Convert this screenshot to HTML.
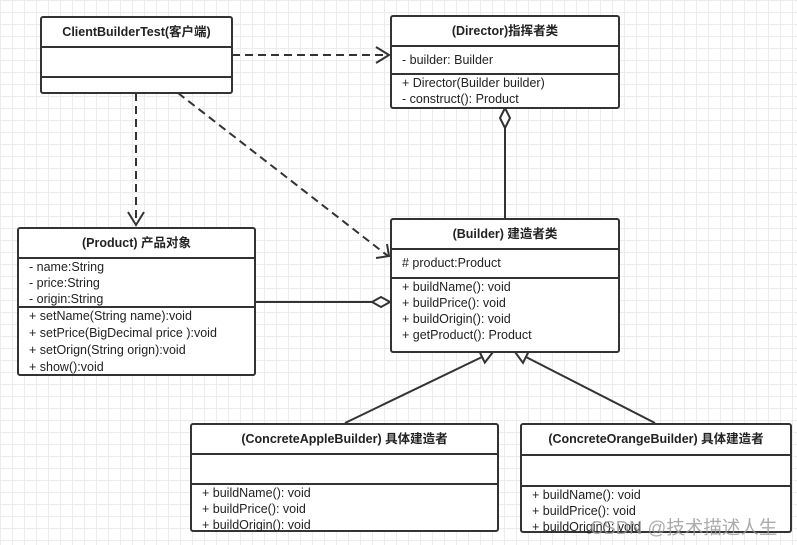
<!DOCTYPE html>
<html><head><meta charset="utf-8"><style>
body{margin:0;width:797px;height:545px;overflow:hidden;background:#fff;
background-image:linear-gradient(#ececec 1px,transparent 1px),linear-gradient(90deg,#ececec 1px,transparent 1px);background-size:12px 12px;
font-family:"Liberation Sans","Noto Sans CJK SC",sans-serif;font-size:12.5px;color:#222;position:relative}
.b{position:absolute;border:2px solid #333;border-radius:3px;background:#fff;box-sizing:border-box}
.h{font-weight:bold;text-align:center;border-bottom:2px solid #333;box-sizing:border-box}
.s{border-bottom:2px solid #333;box-sizing:border-box;padding-left:10px;line-height:16px}
.m{padding-left:10px;line-height:16px}
svg{position:absolute;left:0;top:0}
</style></head><body>
<svg width="797" height="545">
<g stroke="#333" stroke-width="2" fill="none">
<path d="M232 55 H388" stroke-dasharray="8,5"/><path d="M376 47 L389 55 L376 63"/>
<path d="M136 93 V224" stroke-dasharray="8,5"/><path d="M128 212 L136 225 L144 212"/>
<path d="M178 93 L388 256" stroke-dasharray="8,5"/><path d="M376 258 L389 256 L387 244"/>
<path d="M255 302 H372"/><path d="M372 302 L381 297 L390 302 L381 307 Z" fill="#fff"/>
<path d="M505 128 V227"/><path d="M505 108 L510 118 L505 128 L500 118 Z" fill="#fff"/>
<path d="M345 423 L482 357"/><path d="M493 352 L484.8 362.6 L479.6 351.8 Z" fill="#fff"/>
<path d="M655 423 L526 357"/><path d="M515 352 L528.4 352 L523 362.8 Z" fill="#fff"/>
</g></svg>
<div class="b" style="left:40px;top:16px;width:193px;height:78px"><div class="h" style="height:30px;line-height:28px">ClientBuilderTest(客户端)</div><div class="s" style="height:30px"></div></div>
<div class="b" style="left:390px;top:15px;width:230px;height:94px"><div class="h" style="height:30px;line-height:28px">(Director)指挥者类</div><div class="s" style="height:28px;line-height:26px">- builder: Builder</div><div class="m">+ Director(Builder builder)<br>- construct(): Product</div></div>
<div class="b" style="left:17px;top:227px;width:239px;height:149px"><div class="h" style="height:30px;line-height:28px">(Product) 产品对象</div><div class="s" style="height:49px">- name:String<br>- price:String<br>- origin:String</div><div class="m" style="line-height:17px">+ setName(String name):void<br>+ setPrice(BigDecimal price ):void<br>+ setOrign(String orign):void<br>+ show():void</div></div>
<div class="b" style="left:390px;top:218px;width:230px;height:135px"><div class="h" style="height:30px;line-height:28px">(Builder) 建造者类</div><div class="s" style="height:29px;line-height:27px"># product:Product</div><div class="m">+ buildName(): void<br>+ buildPrice(): void<br>+ buildOrigin(): void<br>+ getProduct(): Product</div></div>
<div class="b" style="left:190px;top:423px;width:309px;height:109px"><div class="h" style="height:30px;line-height:28px">(ConcreteAppleBuilder) 具体建造者</div><div class="s" style="height:30px"></div><div class="m">+ buildName(): void<br>+ buildPrice(): void<br>+ buildOrigin(): void</div></div>
<div class="b" style="left:520px;top:423px;width:272px;height:110px"><div class="h" style="height:31px;line-height:29px">(ConcreteOrangeBuilder) 具体建造者</div><div class="s" style="height:31px"></div><div class="m">+ buildName(): void<br>+ buildPrice(): void<br>+ buildOrigin(): void</div></div>
<div style="position:absolute;left:590px;top:514px;font-size:18.5px;color:rgba(150,150,150,0.8)">CSDN @技术描述人生</div>
</body></html>
